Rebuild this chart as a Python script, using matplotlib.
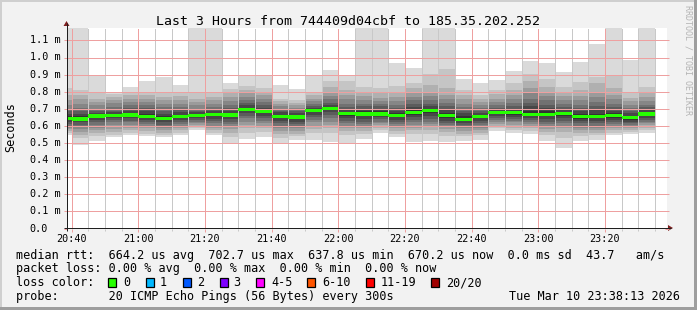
import matplotlib
matplotlib.use("Agg")
import matplotlib.pyplot as plt
from matplotlib.patches import Rectangle, Polygon
from matplotlib.lines import Line2D
from matplotlib.transforms import blended_transform_factory

# column start in minutes after 20:00, one column per 300 s step
col_start = list(range(35, 215, 5))

median_ms = [0.642, 0.640, 0.658, 0.662, 0.664, 0.657, 0.644, 0.655, 0.662, 0.666,
             0.664, 0.696, 0.686, 0.656, 0.652, 0.690, 0.7027, 0.672, 0.670, 0.670,
             0.663, 0.680, 0.690, 0.660, 0.6378, 0.657, 0.680, 0.680, 0.668, 0.668,
             0.673, 0.655, 0.657, 0.660, 0.649, 0.6702]

# smoke band edges (ms), outer band first
smoke_hi = [
    [1.30, 0.82, 0.78, 0.75, 0.725, 0.70, 0.685, 0.67, 0.655],
    [1.30, 0.81, 0.78, 0.755, 0.73, 0.705, 0.685, 0.67, 0.655],
    [0.90, 0.80, 0.76, 0.74, 0.72, 0.70, 0.685, 0.675, 0.665],
    [0.80, 0.785, 0.768, 0.752, 0.733, 0.708, 0.69, 0.68, 0.67],
    [0.83, 0.80, 0.78, 0.76, 0.74, 0.72, 0.705, 0.69, 0.675],
    [0.86, 0.80, 0.78, 0.76, 0.74, 0.72, 0.705, 0.69, 0.67],
    [0.885, 0.79, 0.77, 0.75, 0.73, 0.71, 0.69, 0.67, 0.655],
    [0.84, 0.80, 0.775, 0.75, 0.73, 0.71, 0.695, 0.68, 0.665],
    [1.30, 0.79, 0.76, 0.74, 0.72, 0.70, 0.69, 0.68, 0.67],
    [1.30, 0.80, 0.77, 0.75, 0.73, 0.71, 0.695, 0.685, 0.675],
    [0.85, 0.815, 0.79, 0.77, 0.745, 0.725, 0.705, 0.69, 0.675],
    [0.89, 0.835, 0.81, 0.79, 0.77, 0.75, 0.735, 0.72, 0.705],
    [0.89, 0.82, 0.80, 0.78, 0.76, 0.74, 0.72, 0.705, 0.695],
    [0.84, 0.76, 0.745, 0.73, 0.715, 0.70, 0.69, 0.68, 0.665],
    [0.815, 0.75, 0.735, 0.72, 0.705, 0.695, 0.685, 0.675, 0.665],
    [0.89, 0.80, 0.78, 0.76, 0.745, 0.73, 0.715, 0.705, 0.697],
    [0.925, 0.86, 0.83, 0.80, 0.775, 0.755, 0.735, 0.72, 0.71],
    [0.89, 0.86, 0.81, 0.78, 0.755, 0.73, 0.71, 0.695, 0.68],
    [1.30, 0.828, 0.80, 0.775, 0.75, 0.73, 0.715, 0.70, 0.685],
    [1.30, 0.82, 0.79, 0.765, 0.745, 0.73, 0.715, 0.70, 0.685],
    [0.968, 0.835, 0.80, 0.77, 0.745, 0.725, 0.705, 0.69, 0.675],
    [0.939, 0.85, 0.82, 0.79, 0.77, 0.75, 0.73, 0.71, 0.695],
    [1.30, 0.902, 0.84, 0.80, 0.775, 0.75, 0.73, 0.715, 0.70],
    [1.30, 0.932, 0.82, 0.78, 0.755, 0.735, 0.715, 0.695, 0.675],
    [0.873, 0.81, 0.78, 0.755, 0.73, 0.71, 0.69, 0.675, 0.655],
    [0.851, 0.78, 0.76, 0.74, 0.725, 0.705, 0.69, 0.675, 0.665],
    [0.867, 0.81, 0.785, 0.76, 0.74, 0.72, 0.705, 0.695, 0.688],
    [0.922, 0.85, 0.81, 0.78, 0.755, 0.735, 0.715, 0.70, 0.69],
    [0.978, 0.905, 0.86, 0.82, 0.79, 0.76, 0.735, 0.715, 0.69],
    [0.968, 0.875, 0.83, 0.80, 0.775, 0.75, 0.725, 0.705, 0.685],
    [0.916, 0.83, 0.80, 0.775, 0.75, 0.73, 0.71, 0.695, 0.68],
    [0.974, 0.857, 0.81, 0.775, 0.75, 0.725, 0.705, 0.685, 0.67],
    [1.078, 0.886, 0.85, 0.80, 0.77, 0.74, 0.715, 0.695, 0.67],
    [1.30, 0.895, 0.82, 0.78, 0.755, 0.73, 0.71, 0.69, 0.675],
    [0.988, 0.79, 0.765, 0.745, 0.725, 0.705, 0.69, 0.675, 0.66],
    [1.30, 0.83, 0.80, 0.77, 0.745, 0.725, 0.71, 0.695, 0.68],
]
smoke_lo = [
    [0.545, 0.56, 0.57, 0.58, 0.59, 0.60, 0.61, 0.62, 0.632],
    [0.49, 0.53, 0.545, 0.565, 0.58, 0.595, 0.605, 0.62, 0.632],
    [0.51, 0.54, 0.56, 0.575, 0.59, 0.605, 0.62, 0.635, 0.65],
    [0.534, 0.546, 0.565, 0.584, 0.603, 0.622, 0.636, 0.645, 0.655],
    [0.545, 0.56, 0.575, 0.59, 0.605, 0.62, 0.63, 0.645, 0.655],
    [0.54, 0.555, 0.57, 0.585, 0.60, 0.61, 0.62, 0.635, 0.645],
    [0.535, 0.545, 0.56, 0.575, 0.585, 0.595, 0.605, 0.62, 0.635],
    [0.545, 0.56, 0.575, 0.59, 0.60, 0.61, 0.62, 0.635, 0.645],
    [0.577, 0.585, 0.595, 0.605, 0.615, 0.625, 0.635, 0.645, 0.655],
    [0.545, 0.56, 0.575, 0.59, 0.60, 0.615, 0.63, 0.64, 0.655],
    [0.50, 0.535, 0.56, 0.58, 0.595, 0.61, 0.625, 0.64, 0.655],
    [0.525, 0.56, 0.585, 0.605, 0.625, 0.645, 0.66, 0.675, 0.69],
    [0.535, 0.565, 0.585, 0.60, 0.615, 0.63, 0.645, 0.66, 0.675],
    [0.50, 0.53, 0.55, 0.57, 0.585, 0.60, 0.615, 0.63, 0.645],
    [0.515, 0.54, 0.555, 0.57, 0.585, 0.60, 0.61, 0.625, 0.64],
    [0.52, 0.56, 0.58, 0.60, 0.62, 0.635, 0.65, 0.665, 0.68],
    [0.505, 0.56, 0.59, 0.605, 0.625, 0.645, 0.665, 0.68, 0.695],
    [0.50, 0.545, 0.57, 0.59, 0.60, 0.615, 0.63, 0.645, 0.66],
    [0.525, 0.55, 0.57, 0.585, 0.60, 0.61, 0.625, 0.64, 0.655],
    [0.557, 0.575, 0.59, 0.605, 0.615, 0.625, 0.64, 0.65, 0.66],
    [0.535, 0.555, 0.57, 0.585, 0.60, 0.61, 0.625, 0.635, 0.65],
    [0.505, 0.55, 0.575, 0.59, 0.605, 0.62, 0.635, 0.65, 0.665],
    [0.513, 0.55, 0.575, 0.595, 0.61, 0.625, 0.64, 0.655, 0.675],
    [0.506, 0.54, 0.565, 0.58, 0.595, 0.605, 0.615, 0.63, 0.645],
    [0.513, 0.54, 0.555, 0.57, 0.585, 0.595, 0.605, 0.615, 0.628],
    [0.52, 0.545, 0.56, 0.575, 0.59, 0.605, 0.615, 0.63, 0.645],
    [0.569, 0.585, 0.60, 0.61, 0.625, 0.635, 0.645, 0.655, 0.67],
    [0.56, 0.575, 0.59, 0.605, 0.62, 0.63, 0.64, 0.65, 0.665],
    [0.552, 0.57, 0.585, 0.60, 0.61, 0.625, 0.635, 0.645, 0.66],
    [0.513, 0.545, 0.565, 0.58, 0.595, 0.61, 0.625, 0.64, 0.655],
    [0.47, 0.53, 0.565, 0.585, 0.60, 0.615, 0.63, 0.645, 0.66],
    [0.514, 0.54, 0.56, 0.575, 0.59, 0.60, 0.615, 0.63, 0.64],
    [0.52, 0.545, 0.56, 0.575, 0.59, 0.60, 0.615, 0.63, 0.645],
    [0.545, 0.56, 0.575, 0.59, 0.60, 0.61, 0.625, 0.635, 0.645],
    [0.552, 0.565, 0.575, 0.585, 0.595, 0.605, 0.615, 0.625, 0.635],
    [0.556, 0.575, 0.59, 0.605, 0.615, 0.625, 0.635, 0.645, 0.66],
]

y_ticks = [0.0, 0.1, 0.2, 0.3, 0.4, 0.5, 0.6, 0.7, 0.8, 0.9, 1.0, 1.1]
y_labels = ["0.0", "0.1 m", "0.2 m", "0.3 m", "0.4 m", "0.5 m", "0.6 m",
            "0.7 m", "0.8 m", "0.9 m", "1.0 m", "1.1 m"]
x_ticks = [40, 60, 80, 100, 120, 140, 160, 180, 200]
x_labels = ["20:40", "21:00", "21:20", "21:40", "22:00", "22:20", "22:40", "23:00", "23:20"]

title = "Last 3 Hours from 744409d04cbf to 185.35.202.252"
legend_lines = [
    "median rtt:  664.2 us avg  702.7 us max  637.8 us min  670.2 us now  0.0 ms sd  43.7   am/s",
    "packet loss: 0.00 % avg  0.00 % max  0.00 % min  0.00 % now",
    "loss color:",
    "probe:       20 ICMP Echo Pings (56 Bytes) every 300s",
]
stamp = "Tue Mar 10 23:38:13 2026"
loss_labels = ["0", "1", "2", "3", "4-5", "6-10", "11-19", "20/20"]
loss_colors = ["#26ff00", "#00b8ff", "#0059ff", "#7e00ff", "#ff00ff", "#ff5500", "#ff0000", "#a10000"]

smoke_grays = ["#dadada", "#c5c5c5", "#b0b0b0", "#9b9b9b", "#868686",
               "#717171", "#5c5c5c", "#474747", "#323232"]

W, H = 697, 310
MONO = "DejaVu Sans Mono"
GRID = "#c8c8c8"
MGRID = "#eea0a0"
PX_PER_MS = 171.0

def fx(x):
    return x / W

def fy(y):
    return 1 - y / H

fig = plt.figure(figsize=(W / 100, H / 100), dpi=100, facecolor="#f2f2f2")

# 3d frame
fig.patches.append(Rectangle((0, fy(2)), 1, 2 / H, transform=fig.transFigure, color="#cfcfcf", lw=0))
fig.patches.append(Rectangle((0, 0), fx(2), 1, transform=fig.transFigure, color="#cfcfcf", lw=0))
fig.patches.append(Rectangle((0, 0), 1, 3 / H, transform=fig.transFigure, color="#9e9e9e", lw=0))
fig.patches.append(Rectangle((fx(W - 3), 0), 3 / W, 1, transform=fig.transFigure, color="#9e9e9e", lw=0))

PL, PR, PT, PB = 67, 667, 28, 228.5
X0 = 38.6
ax = fig.add_axes([fx(PL), fy(PB), (PR - PL) / W, (PB - PT) / H])
ax.set_facecolor("white")
for s in ax.spines.values():
    s.set_visible(False)
ax.set_xticks([])
ax.set_yticks([])

# smoke, outer band first
for k in range(9):
    lo = [c[k] for c in smoke_lo]
    hi = [c[k] for c in smoke_hi]
    ax.bar(col_start, [h - l for h, l in zip(hi, lo)], bottom=lo, width=5, align="edge",
           color=smoke_grays[k], linewidth=0, antialiased=False, zorder=2)

# dotted grid, drawn over the smoke
for m in range(40, 220, 5):
    ax.axvline(m, color=MGRID if m % 20 == 0 else GRID, lw=0.72, ls=(0, (1, 1)),
               antialiased=False, zorder=4)
for v in y_ticks[1:]:
    ax.axhline(v, color=MGRID, lw=0.72, ls=(0, (1, 1)), antialiased=False, zorder=4)

# median
band = 0.019
ax.bar(col_start, band, bottom=[m - band / 2 for m in median_ms], width=5, align="edge",
       color="#26ff00", linewidth=0, antialiased=False, zorder=5)

ax.set_xlim(X0, X0 + 180)
ax.set_ylim(0, (PB - PT) / PX_PER_MS)

# tick labels
ty = blended_transform_factory(fig.transFigure, ax.transData)
for v, lab in zip(y_ticks, y_labels):
    ax.text(fx(29.5), v, lab, transform=ty, ha="left", va="center", fontsize=7.3,
            family=MONO, color="black")
tx = blended_transform_factory(ax.transData, fig.transFigure)
for m, lab in zip(x_ticks, x_labels):
    ax.text(m, fy(241.7), lab, transform=tx, ha="center", va="baseline", fontsize=7.3,
            family=MONO, color="black")

def fline(x0, y0, x1, y1, color, lw=0.72):
    fig.add_artist(Line2D([fx(x0), fx(x1)], [fy(y0), fy(y1)], transform=fig.transFigure,
                          color=color, lw=lw, solid_capstyle="butt"))

# axis ticks
for v in y_ticks:
    yp = PB - v * PX_PER_MS
    fline(PL - 3, yp, PL, yp, MGRID)
    fline(PR - 2, yp, PR + 2, yp, MGRID)
for m in range(40, 220, 5):
    xp = PL + (m - X0) * 600 / 180
    if m % 20 == 0:
        fline(xp, PB, xp, PB + 3, MGRID)
    else:
        fline(xp, PB, xp, PB + 2, GRID)

# axes with arrows
fline(PL - 0.5, PB + 2, PL - 0.5, PT - 5, "#1f1f1f")
fline(PL - 3, PB - 0.5, PR + 4, PB - 0.5, "#1f1f1f")
fig.patches.append(Polygon([[fx(PL - 3.5), fy(PT - 2)], [fx(PL + 2.5), fy(PT - 2)], [fx(PL - 0.5), fy(PT - 7)]],
                           closed=True, transform=fig.transFigure, color="#7f1f1f", lw=0))
fig.patches.append(Polygon([[fx(PR + 1), fy(PB - 3.5)], [fx(PR + 1), fy(PB + 2.5)], [fx(PR + 6), fy(PB - 0.5)]],
                           closed=True, transform=fig.transFigure, color="#7f1f1f", lw=0))

# texts
fig.text(fx(348), fy(25), title, ha="center", va="baseline", fontsize=9.55, family=MONO)
fig.text(fx(11), fy(127.5), "Seconds", rotation=90, ha="center", va="center", fontsize=8.5, family=MONO)
fig.text(fx(688), fy(5), "RRDTOOL / TOBI OETIKER", rotation=270, ha="center", va="top",
         fontsize=6, family=MONO, color="#b4b4b4")

for i, line in enumerate(legend_lines):
    fig.text(fx(16), fy(258.5 + 13.85 * i), line, ha="left", va="baseline", fontsize=8.49, family=MONO)
fig.text(fx(680), fy(300), stamp, ha="right", va="baseline", fontsize=8.49, family=MONO)

box_x = [108, 146, 183, 219.5, 256, 307, 365.7, 430.7]
lab_x = [123, 160, 196.7, 233.3, 271, 322, 380.7, 445.7]
for bx, lx, lab, col in zip(box_x, lab_x, loss_labels, loss_colors):
    fig.patches.append(Rectangle((fx(bx), fy(286.7)), 8.3 / W, 8.3 / H, transform=fig.transFigure,
                                 facecolor=col, edgecolor="black", lw=0.9))
    fig.text(fx(lx), fy(286), lab, ha="left", va="baseline", fontsize=8.49, family=MONO)

fig.savefig("out.png", dpi=100, facecolor=fig.get_facecolor())
